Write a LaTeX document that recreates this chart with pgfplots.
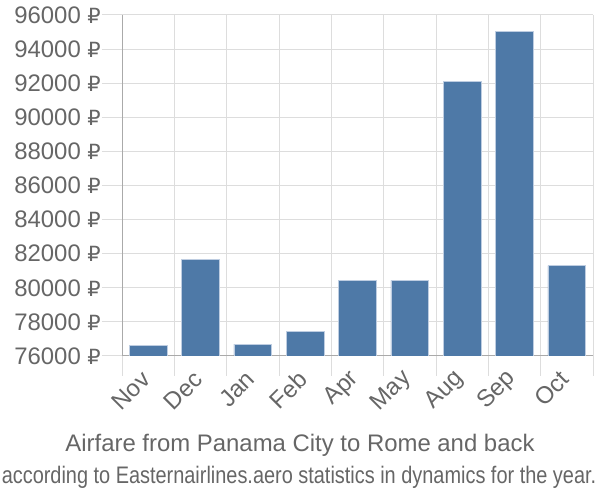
\documentclass[border=0pt]{standalone}
\usepackage{fontspec}
\setmainfont{Liberation Sans}
\newfontfamily\dv{DejaVu Sans}
\usepackage{pgfplots}
\pgfplotsset{compat=1.18}
\definecolor{barc}{RGB}{78,121,167}
\definecolor{txt}{RGB}{102,102,102}
\definecolor{grd}{RGB}{221,221,221}
\definecolor{axl}{RGB}{170,170,170}
\newcommand{\rub}{{\dv\fontsize{21}{21}\selectfont ₽}}
\begin{document}
\begin{tikzpicture}[x=1bp,y=1bp]
\path[use as bounding box] (0,0) rectangle (600,500);
\begin{axis}[
 at={(122bp,144bp)}, anchor=south west,
 width=471bp, height=341bp, scale only axis,
 xmin=-0.5, xmax=8.5, ymin=76000, ymax=96000,
 ybar, bar width=0.72,
 axis x line=bottom, axis y line=left,
 axis line style={draw=axl, line width=1bp, -},
 scaled y ticks=false,
 xtick={0,...,8},
 xticklabels={Nov,Dec,Jan,Feb,Apr,May,Aug,Sep,Oct},
 minor xtick={-0.5,0.5,...,8.5},
 xminorgrids, ymajorgrids,
 grid style={draw=grd, line width=1bp},
 minor grid style={draw=grd, line width=1bp},
 ytick={76000,78000,...,96000},
 yticklabels={76000 \rub,78000 \rub,80000 \rub,82000 \rub,84000 \rub,86000 \rub,88000 \rub,90000 \rub,92000 \rub,94000 \rub,96000 \rub},
 tick align=outside, major tick length=20bp, minor tick length=20bp,
 major x tick style={draw=none},
 minor x tick style={draw=grd, line width=1bp},
 ytick style={draw=grd, line width=1bp},
 ticklabel style={text=txt, font=\fontsize{24}{24}\selectfont},
 yticklabel style={inner sep=1bp},
 xticklabel style={rotate=45, anchor=east, inner sep=1bp, yshift=2bp},
 clip=true,
]
\addplot[fill=barc, draw={rgb,255:red,190;green,205;blue,225}, line width=0.6bp] coordinates {
 (0,76610) (1,81650) (2,76700) (3,77460) (4,80430) (5,80430) (6,92090) (7,95060) (8,81300)};
\end{axis}
\node[text=txt, font=\fontsize{24}{24}\selectfont] at (300,55) {Airfare from Panama City to Rome and back};
\node[text=txt, font=\fontsize{24}{24}\selectfont, xscale=0.833] at (299,23) {according to Easternairlines.aero statistics in dynamics for the year.};
\end{tikzpicture}
\end{document}
